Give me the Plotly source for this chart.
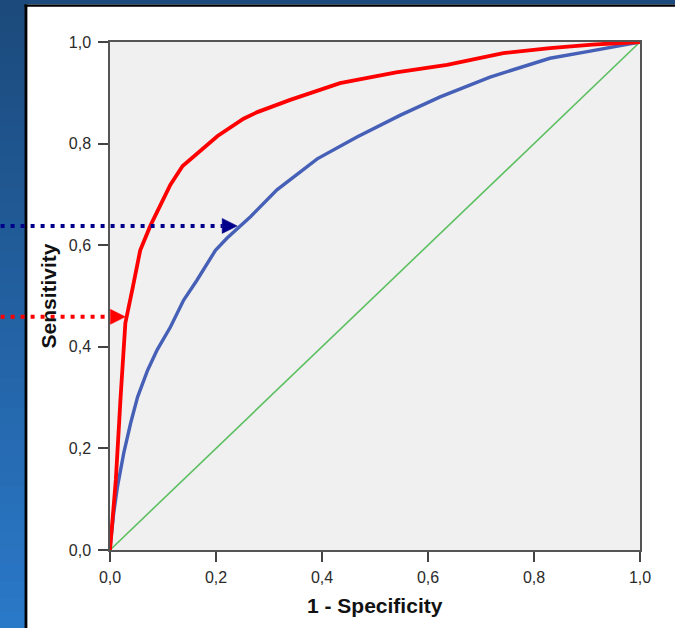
import plotly.graph_objects as go

# ---- data ----
red_fpr = [0, 0.011, 0.020, 0.029, 0.042, 0.057, 0.076, 0.095, 0.114, 0.137, 0.165,
           0.203, 0.252, 0.278, 0.340, 0.434, 0.540, 0.636, 0.742, 0.830, 0.910, 1.0]
red_tpr = [0, 0.138, 0.301, 0.447, 0.512, 0.590, 0.638, 0.680, 0.719, 0.756, 0.781,
           0.815, 0.849, 0.862, 0.886, 0.919, 0.940, 0.955, 0.978, 0.988, 0.995, 1.0]

blue_fpr = [0, 0.001, 0.007, 0.014, 0.026, 0.039, 0.052, 0.071, 0.089, 0.114, 0.139,
            0.164, 0.199, 0.221, 0.265, 0.315, 0.391, 0.466, 0.548, 0.623, 0.717,
            0.780, 0.830, 0.906, 1.0]
blue_tpr = [0, 0.014, 0.073, 0.124, 0.191, 0.250, 0.301, 0.354, 0.394, 0.439, 0.492,
            0.531, 0.590, 0.614, 0.656, 0.709, 0.770, 0.813, 0.856, 0.892, 0.931,
            0.951, 0.968, 0.982, 1.0]

ref_line = [0, 1]

tick_vals = [0, 0.2, 0.4, 0.6, 0.8, 1.0]
tick_text = ["0,0", "0,2", "0,4", "0,6", "0,8", "1,0"]

# arrows: (sensitivity level, tip 1-specificity)
blue_arrow = (0.638, 0.240)
red_arrow = (0.459, 0.029)

# ---- geometry (pixels) ----
W, H = 675, 628
L, R, T, B = 109.5, 640, 42, 550
pw, ph = R - L, B - T


def px(xp):
    return (xp - L) / pw


def py(yp):
    return (B - yp) / ph


fig = go.Figure()

fig.add_trace(go.Scatter(x=ref_line, y=ref_line, mode="lines",
                         line=dict(color="#5cc062", width=1.6), hoverinfo="skip"))
fig.add_trace(go.Scatter(x=blue_fpr, y=blue_tpr, mode="lines",
                         line=dict(color="#4560b6", width=3.4), hoverinfo="skip"))
fig.add_trace(go.Scatter(x=red_fpr, y=red_tpr, mode="lines",
                         line=dict(color="#ff0000", width=3.8), hoverinfo="skip"))

shapes = []
# left blue gradient strip
n = 40
c0 = (28, 74, 124)
c1 = (42, 120, 200)
for i in range(n):
    f = i / (n - 1)
    col = "rgb(%d,%d,%d)" % tuple(round(a + (b - a) * f) for a, b in zip(c0, c1))
    y0 = i * H / n
    y1 = (i + 1) * H / n + 3
    shapes.append(dict(type="rect", xref="paper", yref="paper", layer="below",
                       x0=px(-2), x1=px(25), y0=py(y0), y1=py(y1),
                       fillcolor=col, line=dict(width=0)))
# top dark blue strip
shapes.append(dict(type="rect", xref="paper", yref="paper", layer="below",
                   x0=px(-2), x1=px(W + 2), y0=py(-2), y1=py(4.6),
                   fillcolor="rgb(28,74,124)", line=dict(width=0)))
# black borders
shapes.append(dict(type="rect", xref="paper", yref="paper", layer="below",
                   x0=px(24), x1=px(W + 2), y0=py(4.5), y1=py(6.8),
                   fillcolor="#000000", line=dict(width=0)))
shapes.append(dict(type="rect", xref="paper", yref="paper", layer="below",
                   x0=px(24), x1=px(26.8), y0=py(4.5), y1=py(H + 2),
                   fillcolor="#000000", line=dict(width=0)))

# dotted arrows
head_w = 15 / pw
head_h = 7.5 / ph
for (yv, xv), col in [(blue_arrow, "#00008b"), (red_arrow, "#ff0000")]:
    shapes.append(dict(type="line", xref="paper", yref="paper", layer="above",
                       x0=px(0), x1=xv - head_w, y0=yv, y1=yv,
                       line=dict(color=col, width=4, dash="4px,6px")))
    path = "M %f %f L %f %f L %f %f Z" % (xv, yv, xv - head_w, yv + head_h,
                                          xv - head_w, yv - head_h)
    shapes.append(dict(type="path", xref="paper", yref="paper", layer="above",
                       path=path, fillcolor=col, line=dict(color=col, width=0.5)))

axis_common = dict(range=[0, 1], tickvals=tick_vals, ticktext=tick_text,
                   showgrid=False, zeroline=False, showline=True, mirror=True,
                   linecolor="#555555", linewidth=1.5, ticks="outside",
                   ticklen=10, tickwidth=1.5, tickcolor="#444444",
                   tickfont=dict(family="Liberation Sans, Arial, sans-serif",
                                 size=16, color="#2a2a2a"),
                   fixedrange=True)

fig.update_layout(
    width=W, height=H,
    margin=dict(l=L, r=W - R, t=T, b=H - B, pad=0),
    paper_bgcolor="white", plot_bgcolor="#f0f0f0",
    showlegend=False,
    xaxis=dict(**axis_common, ticklabelstandoff=2),
    yaxis=dict(**axis_common, ticklabelstandoff=4),
    shapes=shapes,
    annotations=[
        dict(text="<b>1 - Specificity</b>", xref="paper", yref="paper",
             x=0.5, y=0, xanchor="center", yanchor="middle", yshift=-55,
             showarrow=False,
             font=dict(family="Liberation Sans, Arial, sans-serif", size=21, color="#111111")),
        dict(text="<b>Sensitivity</b>", xref="paper", yref="paper",
             x=0, y=0.5, xanchor="center", yanchor="middle", xshift=-62.5,
             textangle=-90, showarrow=False,
             font=dict(family="Liberation Sans, Arial, sans-serif", size=21, color="#111111")),
    ],
)

fig.write_html("out.html", config={"displayModeBar": False},
               post_script="document.body.style.margin='0';document.body.style.overflow='hidden';")
